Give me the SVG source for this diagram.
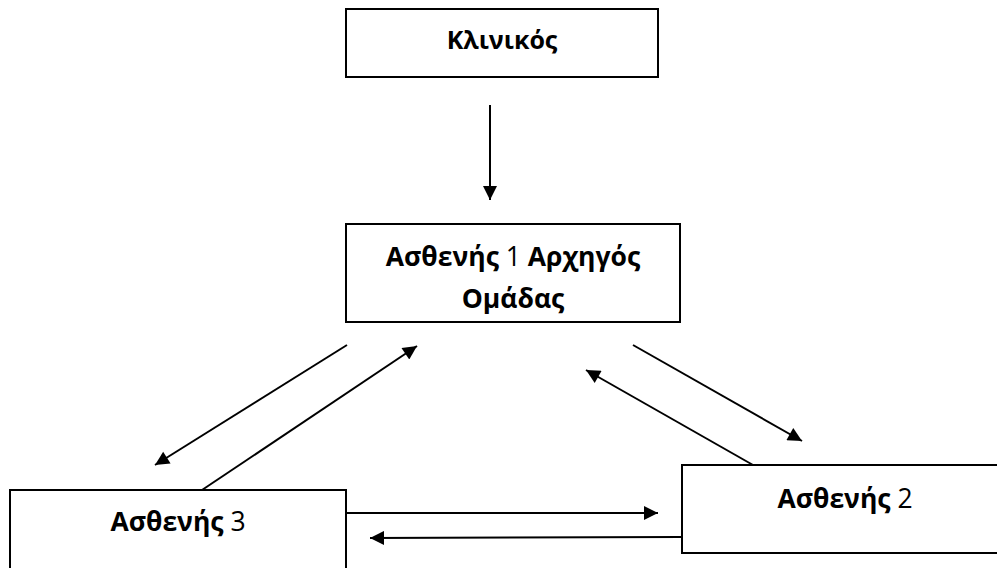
<svg xmlns="http://www.w3.org/2000/svg" width="997" height="568" viewBox="0 0 997 568">
  <style>
    .box { fill: #ffffff; stroke: #000000; stroke-width: 2; }
    .lbl { font-family: "Open Sans", "Noto Sans", "DejaVu Sans", sans-serif; font-weight: bold; font-size: 26.5px; fill: #000000; text-anchor: middle; }
    .top { font-size: 25px; }
    .num { font-weight: normal; }
    .edge { stroke: #000000; stroke-width: 2; fill: none; marker-end: url(#arrow); }
  </style>
  <defs>
    <marker id="arrow" viewBox="0 0 10 10" refX="10" refY="5" markerUnits="userSpaceOnUse" markerWidth="16" markerHeight="14" orient="auto">
      <path d="M0,0 L10,5 L0,10 Z" fill="#000000"/>
    </marker>
  </defs>
  <rect width="997" height="568" fill="#ffffff"/>

  <g id="klinikos">
    <rect class="box" x="346" y="9" width="312" height="68"/>
    <text class="lbl top" x="502" y="49">Κλινικός</text>
  </g>

  <g id="asthenis1">
    <rect class="box" x="346" y="224" width="334" height="98"/>
    <text class="lbl" x="513" y="266">Ασθενής <tspan class="num">1</tspan> Αρχηγός</text>
    <text class="lbl" x="513" y="308">Ομάδας</text>
  </g>

  <g id="asthenis3">
    <rect class="box" x="10" y="490" width="336" height="90"/>
    <text class="lbl" x="178" y="531">Ασθενής <tspan class="num">3</tspan></text>
  </g>

  <g id="asthenis2">
    <rect class="box" x="682" y="465" width="330" height="88"/>
    <text class="lbl" x="845" y="508">Ασθενής <tspan class="num">2</tspan></text>
  </g>

  <g id="connectors">
    <line class="edge" x1="490" y1="105" x2="490" y2="200"/>
    <line class="edge" x1="347" y1="345" x2="155" y2="465"/>
    <line class="edge" x1="202" y1="490" x2="417" y2="346"/>
    <line class="edge" x1="633" y1="345" x2="802" y2="441"/>
    <line class="edge" x1="753" y1="465" x2="586" y2="370"/>
    <line class="edge" x1="346" y1="513" x2="658" y2="513"/>
    <line class="edge" x1="682" y1="537" x2="370" y2="538"/>
  </g>
</svg>
